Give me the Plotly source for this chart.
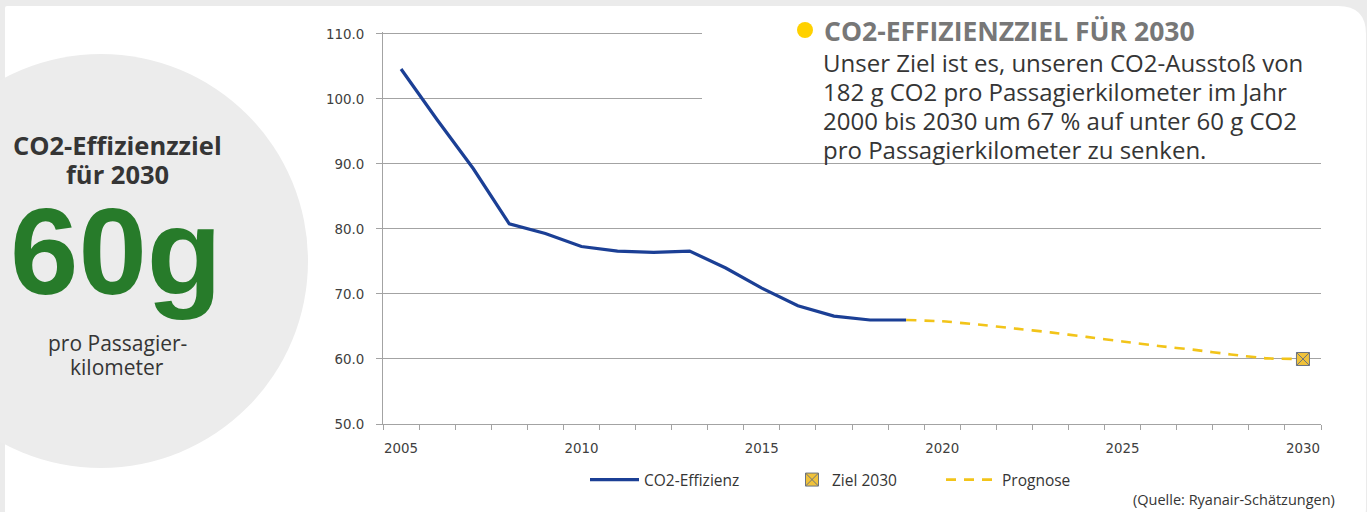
import plotly.graph_objects as go

# ---------------- data ----------------
years_hist = list(range(2005, 2020))
co2_effizienz = [104.6, 96.8, 89.3, 80.8, 79.3, 77.3, 76.6, 76.4, 76.6, 74.0, 70.9, 68.2, 66.6, 66.0, 66.0]

years_prognose = list(range(2019, 2031))
prognose = [66.0, 65.8, 65.3, 64.7, 64.1, 63.4, 62.7, 62.0, 61.4, 60.7, 60.1, 60.0]

ziel_year = [2030]
ziel_value = [60.0]

x_tick_labels = [2005, 2010, 2015, 2020, 2025, 2030]
y_tick_values = [50, 60, 70, 80, 90, 100, 110]

body_lines = [
    "Unser Ziel ist es, unseren CO2-Ausstoß von",
    "182 g CO2 pro Passagierkilometer im Jahr",
    "2000 bis 2030 um 67 % auf unter 60 g CO2",
    "pro Passagierkilometer zu senken.",
]

# ---------------- geometry helpers ----------------
W, H = 1367, 512
L, R, T, B = 383, 1321, 32, 424   # plot area in pixels (top slightly above the 110 line)


def px(x):
    return (x - L) / (R - L)


def py(y):
    return (B - y) / (B - T)


BLUE = "#1b3f95"
YELLOW = "#f2c419"
GREY = "#a3a3a3"
TXT = "#353535"

fig = go.Figure()

fig.add_trace(go.Scatter(
    x=years_hist, y=co2_effizienz, mode="lines", name="CO2-Effizienz",
    line=dict(color=BLUE, width=3.2), legend="legend",
))
fig.add_trace(go.Scatter(
    x=years_prognose, y=prognose, mode="lines", name="Prognose",
    line=dict(color=YELLOW, width=2.6, dash="10px,8px", shape="spline", smoothing=0.5),
    legend="legend3",
))
fig.add_trace(go.Scatter(
    x=ziel_year, y=ziel_value, mode="markers", name="Ziel 2030",
    marker=dict(symbol="square-x", size=13, color="#f0c23a",
                line=dict(color="#6b7380", width=1)),
    legend="legend2",
))


def rounded_rect(x0, y0, x1, y1, r_tl, r_tr, r_br, r_bl):
    def P(x, y):
        return f"{px(x):.5f},{py(y):.5f}"
    path = f"M {P(x0 + r_tl, y0)} L {P(x1 - r_tr, y0)} "
    path += f"Q {P(x1, y0)} {P(x1, y0 + r_tr)} "
    path += f"L {P(x1, y1 - r_br)} Q {P(x1, y1)} {P(x1 - r_br, y1)} "
    path += f"L {P(x0 + r_bl, y1)} Q {P(x0, y1)} {P(x0, y1 - r_bl)} "
    path += f"L {P(x0, y0 + r_tl)} Q {P(x0, y0)} {P(x0 + r_tl, y0)} Z"
    return path


shapes = []
# white card
shapes.append(dict(type="path", xref="paper", yref="paper", layer="below",
                   path=rounded_rect(5, 6, 1366, 540, 2, 28, 34, 2),
                   fillcolor="white", line=dict(width=0)))
# grey circle
cx, cy, r = 101, 261, 207
shapes.append(dict(type="circle", xref="paper", yref="paper", layer="below",
                   x0=px(cx - r), x1=px(cx + r), y0=py(cy + r), y1=py(cy - r),
                   fillcolor="#ececec", line=dict(width=0)))
# white box behind the text block
shapes.append(dict(type="rect", xref="paper", yref="paper", layer="above",
                   x0=px(702), x1=px(1330), y0=py(160), y1=py(8),
                   fillcolor="white", line=dict(width=0)))
# yellow dot
shapes.append(dict(type="circle", xref="paper", yref="paper", layer="above",
                   x0=px(797), x1=px(813), y0=py(38), y1=py(22),
                   fillcolor="#ffd100", line=dict(width=0)))

annotations = []
annotations.append(dict(xref="paper", yref="paper", x=px(822), y=py(31),
                        xanchor="left", yanchor="middle", showarrow=False,
                        text="<b>CO2-EFFIZIENZZIEL FÜR 2030</b>",
                        font=dict(family="Open Sans", size=26.5, color="#777777")))
for i, line in enumerate(body_lines):
    annotations.append(dict(xref="paper", yref="paper", x=px(821), y=py(62 + i * 29.2),
                            xanchor="left", yanchor="middle", showarrow=False,
                            text=line,
                            font=dict(family="Open Sans", size=24, color=TXT)))
# circle texts
annotations.append(dict(xref="paper", yref="paper", x=px(117), y=py(145),
                        xanchor="center", yanchor="middle", showarrow=False,
                        text="<b>CO2-Effizienzziel</b>",
                        font=dict(family="Open Sans", size=25.5, color=TXT)))
annotations.append(dict(xref="paper", yref="paper", x=px(117), y=py(174),
                        xanchor="center", yanchor="middle", showarrow=False,
                        text="<b>für 2030</b>",
                        font=dict(family="Open Sans", size=25.5, color=TXT)))
annotations.append(dict(xref="paper", yref="paper", x=px(116), y=py(251),
                        xanchor="center", yanchor="middle", showarrow=False,
                        text="<b>60g</b>",
                        font=dict(family="Liberation Sans", size=123, color="#277b2a")))
annotations.append(dict(xref="paper", yref="paper", x=px(117), y=py(343),
                        xanchor="center", yanchor="middle", showarrow=False,
                        text="pro Passagier-",
                        font=dict(family="Open Sans", size=21, color=TXT)))
annotations.append(dict(xref="paper", yref="paper", x=px(117), y=py(367),
                        xanchor="center", yanchor="middle", showarrow=False,
                        text="kilometer",
                        font=dict(family="Open Sans", size=21, color=TXT)))
# source
annotations.append(dict(xref="paper", yref="paper", x=px(1337), y=py(500),
                        xanchor="right", yanchor="middle", showarrow=False,
                        text="(Quelle: Ryanair-Schätzungen)",
                        font=dict(family="Open Sans", size=14.5, color=TXT)))

legend_font = dict(family="Open Sans", size=15.5, color=TXT)
leg_common = dict(orientation="h", xanchor="left", yanchor="middle",
                  bgcolor="rgba(0,0,0,0)", borderwidth=0, font=legend_font)

fig.update_layout(
    width=W, height=H,
    margin=dict(l=L, r=W - R, t=T, b=H - B, pad=0),
    paper_bgcolor="#ebebeb",
    plot_bgcolor="rgba(0,0,0,0)",
    shapes=shapes,
    annotations=annotations,
    legend=dict(x=px(585), y=py(480), itemwidth=49, **leg_common),
    legend2=dict(x=px(792), y=py(480), itemwidth=30, **leg_common),
    legend3=dict(x=px(941), y=py(480), itemwidth=51, **leg_common),
    xaxis=dict(
        range=[2004.5, 2030.5],
        tickmode="array", tickvals=x_tick_labels,
        ticks="outside", ticklen=0, tickcolor=GREY,
        showgrid=False, zeroline=False,
        showline=True, linecolor=GREY, linewidth=1,
        tickfont=dict(family="DejaVu Sans", size=13.4, color="#404040"),
        ticklabelstandoff=12,
        minor=dict(tickmode="linear", tick0=2004.5, dtick=1, ticks="outside",
                   ticklen=5, tickcolor=GREY, showgrid=False),
        fixedrange=True,
    ),
    yaxis=dict(
        range=[50, 110.3],
        tickmode="array", tickvals=y_tick_values, tickformat=".1f",
        ticks="outside", ticklen=6, tickcolor=GREY,
        showgrid=True, gridcolor=GREY, gridwidth=1,
        zeroline=False,
        showline=True, linecolor=GREY, linewidth=1,
        tickfont=dict(family="DejaVu Sans", size=13.4, color="#404040"),
        ticklabelstandoff=9,
        fixedrange=True,
    ),
    showlegend=True,
)

page_fix = ("document.body.style.margin='0px';"
            "document.body.style.padding='0px';"
            "document.body.style.overflow='hidden';"
            "document.body.style.background='#ebebeb';")
fig.write_html("out.html", config={"displayModeBar": False}, post_script=page_fix)
